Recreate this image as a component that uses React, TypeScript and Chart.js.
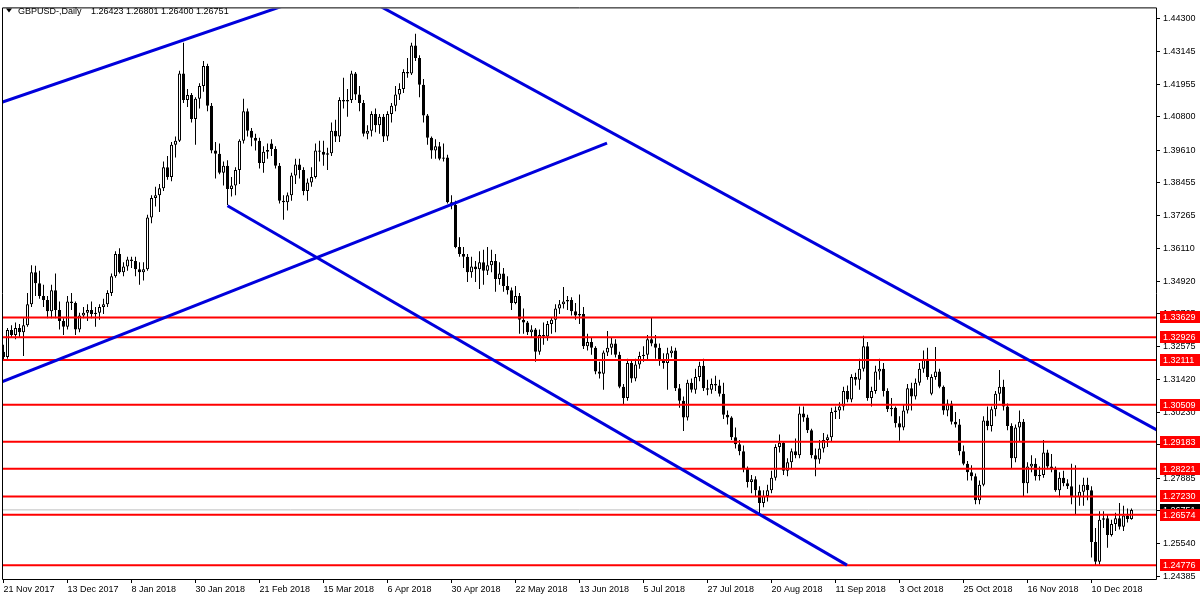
import React, { useEffect, useRef } from "react";
import { Chart, registerables } from "chart.js";

Chart.register(...registerables);

const FONT = "'Liberation Sans', Arial, sans-serif";

// Daily GBPUSD candles, 21 Nov 2017 .. 24 Dec 2018 (one entry per bar)
const opens = [
  1.3240, 1.3222, 1.3318, 1.3300, 1.3325, 1.3310, 1.3335, 1.3410, 1.3525, 1.3485,
  1.3440, 1.3425, 1.3385, 1.3460, 1.3390, 1.3350, 1.3330, 1.3420, 1.3415, 1.3320,
  1.3370, 1.3380, 1.3390, 1.3375, 1.3380, 1.3400, 1.3410, 1.3450, 1.3510, 1.3590,
  1.3525, 1.3545, 1.3570, 1.3565, 1.3535, 1.3525, 1.3535, 1.3720, 1.3790, 1.3800,
  1.3825, 1.3900, 1.3865, 1.3980, 1.3995, 1.4235, 1.4140, 1.4158, 1.4072, 1.4145,
  1.4190, 1.4262, 1.4120, 1.3960, 1.3948, 1.3880, 1.3905, 1.3822, 1.3835, 1.3890,
  1.3995, 1.4100, 1.4030, 1.4005, 1.3995, 1.3915, 1.3955, 1.3985, 1.3965, 1.3905,
  1.3780, 1.3775, 1.3800, 1.3870, 1.3910, 1.3890, 1.3815, 1.3845, 1.3865, 1.3960,
  1.3955, 1.3945, 1.3950, 1.4030, 1.4010, 1.4140, 1.4135, 1.4140, 1.4235, 1.4160,
  1.4130, 1.4020, 1.4030, 1.4090, 1.4050, 1.4080, 1.4010, 1.4090, 1.4120, 1.4160,
  1.4180, 1.4240, 1.4235, 1.4335, 1.4290, 1.4195, 1.4085, 1.4005, 1.3960, 1.3975,
  1.3930, 1.3935, 1.3775, 1.3765, 1.3615, 1.3590, 1.3580, 1.3525, 1.3545, 1.3535,
  1.3560, 1.3530, 1.3550, 1.3565, 1.3500, 1.3520, 1.3475, 1.3460, 1.3415, 1.3440,
  1.3355, 1.3345, 1.3310, 1.3320, 1.3240, 1.3300, 1.3295, 1.3340, 1.3355, 1.3395,
  1.3410, 1.3420, 1.3425, 1.3385, 1.3370, 1.3375, 1.3260, 1.3275, 1.3255, 1.3170,
  1.3162, 1.3238, 1.3255, 1.3270, 1.3230, 1.3115, 1.3075, 1.3200, 1.3145, 1.3195,
  1.3225, 1.3230, 1.3285, 1.3270, 1.3255, 1.3210, 1.3200, 1.3235, 1.3245, 1.3110,
  1.3065, 1.3005, 1.3130, 1.3105, 1.3150, 1.3190, 1.3110, 1.3105, 1.3125, 1.3120,
  1.3090, 1.3015, 1.3005, 1.2935, 1.2910, 1.2885, 1.2825, 1.2775, 1.2785, 1.2745,
  1.2700, 1.2725, 1.2745, 1.2790, 1.2900, 1.2915, 1.2815, 1.2845, 1.2885, 1.2870,
  1.3020, 1.3005, 1.2960, 1.2870, 1.2855, 1.2895, 1.2925, 1.2935, 1.3025, 1.3030,
  1.3045, 1.3100, 1.3070, 1.3150, 1.3140, 1.3180, 1.3260, 1.3075, 1.3100, 1.3170,
  1.3180, 1.3100, 1.3035, 1.3040, 1.2985, 1.2970, 1.3030, 1.3110, 1.3080, 1.3130,
  1.3180, 1.3215, 1.3090, 1.3150, 1.3170, 1.3115, 1.3030, 1.3055, 1.2990, 1.2980,
  1.2885, 1.2840, 1.2810, 1.2795, 1.2710, 1.2765, 1.2995, 1.2975, 1.3035, 1.3090,
  1.3115, 1.3045, 1.2975, 1.2860, 1.2970, 1.2990, 1.2770, 1.2830, 1.2840, 1.2795,
  1.2800, 1.2880, 1.2830, 1.2820, 1.2745, 1.2790, 1.2770, 1.2760, 1.2725, 1.2720,
  1.2740, 1.2765, 1.2745, 1.2560, 1.2490, 1.2640, 1.2645, 1.2585, 1.2625, 1.2645,
  1.2615, 1.2655, 1.26423,
];

const highs = [
  1.3265, 1.3325, 1.3335, 1.3345, 1.3340, 1.3360, 1.3450, 1.3550, 1.3548, 1.3530,
  1.3480, 1.3440, 1.3480, 1.3520, 1.3420, 1.3360, 1.3440, 1.3450, 1.3420, 1.3380,
  1.3400, 1.3410, 1.3420, 1.3400, 1.3410, 1.3430, 1.3460, 1.3520, 1.3600, 1.3610,
  1.3560, 1.3580, 1.3580, 1.3580, 1.3560, 1.3560, 1.3730, 1.3800, 1.3830, 1.3840,
  1.3920, 1.3940, 1.3990, 1.4010, 1.4245, 1.4345, 1.4180, 1.4165, 1.4150, 1.4200,
  1.4280, 1.4270, 1.4130, 1.3990, 1.3985, 1.3920, 1.3925, 1.3865, 1.3900, 1.4000,
  1.4145, 1.4110, 1.4040, 1.4020, 1.4005, 1.3975, 1.3985, 1.4000, 1.3975, 1.3915,
  1.3800, 1.3810, 1.3880, 1.3930, 1.3930, 1.3900, 1.3860, 1.3900, 1.3985, 1.3995,
  1.3995, 1.3970, 1.4060, 1.4070, 1.4150, 1.4220, 1.4180, 1.4245, 1.4240, 1.4190,
  1.4140, 1.4050, 1.4100, 1.4110, 1.4090, 1.4090, 1.4100, 1.4130, 1.4190, 1.4200,
  1.4250, 1.4290, 1.4345, 1.4377, 1.4300, 1.4215, 1.4090, 1.4010, 1.4000, 1.3990,
  1.3985, 1.3945, 1.3800, 1.3780, 1.3650, 1.3615, 1.3590, 1.3580, 1.3565, 1.3600,
  1.3605, 1.3615, 1.3605, 1.3590, 1.3560, 1.3540, 1.3510, 1.3470, 1.3475, 1.3450,
  1.3395, 1.3350, 1.3335, 1.3325, 1.3320, 1.3345, 1.3350, 1.3365, 1.3410, 1.3425,
  1.3472, 1.3440, 1.3435, 1.3415, 1.3445, 1.3400, 1.3305, 1.3290, 1.3260, 1.3205,
  1.3245, 1.3315, 1.3290, 1.3285, 1.3240, 1.3125, 1.3215, 1.3210, 1.3215, 1.3240,
  1.3260, 1.3300, 1.3362, 1.3300, 1.3270, 1.3235, 1.3255, 1.3260, 1.3255, 1.3125,
  1.3080, 1.3140, 1.3145, 1.3180, 1.3205, 1.3215, 1.3140, 1.3145, 1.3155, 1.3140,
  1.3130, 1.3030, 1.3010, 1.2970, 1.2925, 1.2905, 1.2830, 1.2800, 1.2795, 1.2760,
  1.2745, 1.2765, 1.2815, 1.2910, 1.2945, 1.2920, 1.2860, 1.2895, 1.2930, 1.3045,
  1.3045, 1.3015, 1.2965, 1.2895, 1.2925, 1.2950, 1.2945, 1.3040, 1.3045, 1.3060,
  1.3115, 1.3120, 1.3160, 1.3165, 1.3215, 1.3298, 1.3275, 1.3115, 1.3190, 1.3215,
  1.3200, 1.3110, 1.3075, 1.3045, 1.3010, 1.3050, 1.3125, 1.3130, 1.3145, 1.3200,
  1.3245, 1.3255, 1.3160, 1.3257, 1.3180, 1.3120, 1.3070, 1.3065, 1.3025, 1.3000,
  1.2905, 1.2850, 1.2835, 1.2805, 1.2780, 1.3010, 1.3045, 1.3045, 1.3100, 1.3175,
  1.3140, 1.3055, 1.2985, 1.2980, 1.3030, 1.3000, 1.2845, 1.2870, 1.2860, 1.2830,
  1.2925, 1.2890, 1.2875, 1.2830, 1.2810, 1.2815, 1.2785, 1.2840, 1.2835, 1.2765,
  1.2790, 1.2790, 1.2760, 1.2610, 1.2670, 1.2670, 1.2660, 1.2640, 1.2665, 1.2700,
  1.2690, 1.2680, 1.26801,
];

const lows = [
  1.3210, 1.3215, 1.3290, 1.3285, 1.3290, 1.3225, 1.3330, 1.3400, 1.3440, 1.3430,
  1.3400, 1.3360, 1.3360, 1.3360, 1.3320, 1.3300, 1.3320, 1.3390, 1.3300, 1.3310,
  1.3360, 1.3350, 1.3360, 1.3330, 1.3355, 1.3375, 1.3400, 1.3440, 1.3505, 1.3520,
  1.3510, 1.3530, 1.3540, 1.3510, 1.3480, 1.3495, 1.3530, 1.3700, 1.3760, 1.3740,
  1.3815, 1.3855, 1.3850, 1.3935, 1.3990, 1.4130, 1.4115, 1.4060, 1.3980, 1.4110,
  1.4170, 1.4100, 1.3950, 1.3860, 1.3875, 1.3835, 1.3765, 1.3795, 1.3800, 1.3840,
  1.3985, 1.4010, 1.3975, 1.3960, 1.3895, 1.3880, 1.3930, 1.3940, 1.3895, 1.3770,
  1.3712, 1.3745, 1.3780, 1.3840, 1.3860, 1.3800, 1.3780, 1.3830, 1.3860, 1.3920,
  1.3905, 1.3890, 1.3940, 1.3990, 1.3990, 1.4110, 1.4080, 1.4130, 1.4140, 1.4100,
  1.4010, 1.4000, 1.4010, 1.4025, 1.4020, 1.3990, 1.3995, 1.4060, 1.4100, 1.4140,
  1.4165, 1.4220, 1.4230, 1.4280, 1.4150, 1.4060, 1.3980, 1.3930, 1.3930, 1.3925,
  1.3920, 1.3770, 1.3750, 1.3610, 1.3580, 1.3540, 1.3490, 1.3505, 1.3490, 1.3465,
  1.3480, 1.3515, 1.3525, 1.3455, 1.3480, 1.3455, 1.3445, 1.3390, 1.3410, 1.3305,
  1.3305, 1.3300, 1.3290, 1.3205, 1.3230, 1.3265, 1.3280, 1.3305, 1.3310, 1.3375,
  1.3395, 1.3390, 1.3370, 1.3355, 1.3340, 1.3250, 1.3245, 1.3230, 1.3160, 1.3145,
  1.3105, 1.3225, 1.3230, 1.3220, 1.3110, 1.3050, 1.3065, 1.3130, 1.3135, 1.3180,
  1.3205, 1.3210, 1.3260, 1.3215, 1.3190, 1.3180, 1.3105, 1.3220, 1.3100, 1.3040,
  1.2957, 1.2995, 1.3095, 1.3090, 1.3135, 1.3100, 1.3085, 1.3090, 1.3100, 1.3080,
  1.3000, 1.2980, 1.2925, 1.2895, 1.2870, 1.2810, 1.2755, 1.2735, 1.2725, 1.2662,
  1.2685, 1.2705, 1.2735, 1.2780, 1.2880, 1.2800, 1.2795, 1.2820, 1.2860, 1.2860,
  1.2990, 1.2950, 1.2860, 1.2795, 1.2840, 1.2880, 1.2900, 1.2920, 1.3000, 1.3000,
  1.3030, 1.3060, 1.3060, 1.3120, 1.3105, 1.3170, 1.3065, 1.3045, 1.3090, 1.3140,
  1.3080, 1.3025, 1.3010, 1.2970, 1.2922, 1.2960, 1.3020, 1.3030, 1.3070, 1.3120,
  1.3165, 1.3140, 1.3085, 1.3140, 1.3110, 1.3015, 1.3010, 1.2980, 1.2970, 1.2870,
  1.2835, 1.2780, 1.2780, 1.2695, 1.2695, 1.2760, 1.2960, 1.2955, 1.3010, 1.3065,
  1.3030, 1.2960, 1.2825, 1.2845, 1.2920, 1.2725, 1.2735, 1.2810, 1.2780, 1.2780,
  1.2790, 1.2820, 1.2810, 1.2740, 1.2720, 1.2760, 1.2750, 1.2695, 1.2660, 1.2690,
  1.2690, 1.2710, 1.2505, 1.24776, 1.2480, 1.2610, 1.2540, 1.2580, 1.2600, 1.2605,
  1.2600, 1.2630, 1.26400,
];

const closes = [
  1.3222, 1.3318, 1.3300, 1.3325, 1.3310, 1.3335, 1.3410, 1.3525, 1.3485, 1.3440,
  1.3425, 1.3385, 1.3460, 1.3390, 1.3350, 1.3330, 1.3420, 1.3415, 1.3320, 1.3370,
  1.3380, 1.3390, 1.3375, 1.3380, 1.3400, 1.3410, 1.3450, 1.3510, 1.3590, 1.3525,
  1.3545, 1.3570, 1.3565, 1.3535, 1.3525, 1.3535, 1.3720, 1.3790, 1.3800, 1.3825,
  1.3900, 1.3865, 1.3980, 1.3995, 1.4235, 1.4140, 1.4158, 1.4072, 1.4145, 1.4190,
  1.4262, 1.4120, 1.3960, 1.3948, 1.3880, 1.3905, 1.3822, 1.3835, 1.3890, 1.3995,
  1.4100, 1.4030, 1.4005, 1.3995, 1.3915, 1.3955, 1.3962, 1.3965, 1.3905, 1.3780,
  1.3775, 1.3800, 1.3870, 1.3910, 1.3890, 1.3815, 1.3845, 1.3865, 1.3960, 1.3955,
  1.3945, 1.3950, 1.4030, 1.4010, 1.4140, 1.4135, 1.4140, 1.4235, 1.4160, 1.4130,
  1.4020, 1.4030, 1.4090, 1.4050, 1.4080, 1.4010, 1.4090, 1.4120, 1.4160, 1.4180,
  1.4240, 1.4235, 1.4335, 1.4290, 1.4195, 1.4085, 1.4005, 1.3960, 1.3975, 1.3930,
  1.3935, 1.3775, 1.3765, 1.3615, 1.3590, 1.3580, 1.3525, 1.3545, 1.3535, 1.3560,
  1.3530, 1.3550, 1.3565, 1.3500, 1.3520, 1.3475, 1.3460, 1.3415, 1.3440, 1.3355,
  1.3345, 1.3310, 1.3320, 1.3240, 1.3300, 1.3295, 1.3340, 1.3355, 1.3395, 1.3410,
  1.3420, 1.3425, 1.3385, 1.3370, 1.3375, 1.3260, 1.3275, 1.3255, 1.3170, 1.3162,
  1.3238, 1.3255, 1.3270, 1.3230, 1.3115, 1.3075, 1.3200, 1.3145, 1.3195, 1.3225,
  1.3230, 1.3285, 1.3270, 1.3255, 1.3210, 1.3200, 1.3235, 1.3245, 1.3110, 1.3065,
  1.3005, 1.3130, 1.3105, 1.3150, 1.3190, 1.3110, 1.3105, 1.3125, 1.3120, 1.3090,
  1.3015, 1.3005, 1.2935, 1.2910, 1.2885, 1.2825, 1.2775, 1.2785, 1.2745, 1.2700,
  1.2725, 1.2745, 1.2790, 1.2900, 1.2915, 1.2815, 1.2845, 1.2885, 1.2870, 1.3020,
  1.3005, 1.2960, 1.2870, 1.2855, 1.2895, 1.2925, 1.2935, 1.3025, 1.3030, 1.3045,
  1.3100, 1.3070, 1.3150, 1.3140, 1.3180, 1.3260, 1.3075, 1.3100, 1.3170, 1.3180,
  1.3100, 1.3035, 1.3040, 1.2985, 1.2970, 1.3030, 1.3110, 1.3080, 1.3130, 1.3180,
  1.3215, 1.3150, 1.3150, 1.3170, 1.3115, 1.3030, 1.3055, 1.2990, 1.2980, 1.2885,
  1.2840, 1.2810, 1.2795, 1.2710, 1.2765, 1.2995, 1.2975, 1.3035, 1.3090, 1.3115,
  1.3045, 1.2975, 1.2860, 1.2970, 1.2990, 1.2770, 1.2830, 1.2840, 1.2795, 1.2800,
  1.2880, 1.2830, 1.2820, 1.2745, 1.2790, 1.2770, 1.2760, 1.2725, 1.2720, 1.2740,
  1.2765, 1.2745, 1.2560, 1.2490, 1.2640, 1.2645, 1.2585, 1.2625, 1.2645, 1.2615,
  1.2655, 1.2643, 1.26751,
];

const xTickBars = [0, 16, 32, 48, 64, 80, 96, 112, 128, 144, 160, 176, 192, 208, 224, 240, 256, 272];
const xTickLabels = [
  "21 Nov 2017", "13 Dec 2017", "8 Jan 2018", "30 Jan 2018", "21 Feb 2018", "15 Mar 2018",
  "6 Apr 2018", "30 Apr 2018", "22 May 2018", "13 Jun 2018", "5 Jul 2018", "27 Jul 2018",
  "20 Aug 2018", "11 Sep 2018", "3 Oct 2018", "25 Oct 2018", "16 Nov 2018", "10 Dec 2018",
];
const yTickValues = [
  1.443, 1.43145, 1.41955, 1.408, 1.3961, 1.38455, 1.37265, 1.3611, 1.3492,
  1.33765, 1.32575, 1.3142, 1.3023, 1.29075, 1.27885, 1.2673, 1.2554, 1.24385,
];
const levelPrices = [1.33629, 1.32926, 1.32111, 1.30509, 1.29183, 1.28221, 1.2723, 1.26574, 1.24776];
const bidPrice = 1.26751;
const headerSymbol = "GBPUSD-,Daily";
const headerValues = "1.26423 1.26801 1.26400 1.26751";
// trend lines as [barIndex, price] end points
const trendLines = [
  [[-1, 1.41292], [75, 1.45016]],
  [[-1, 1.31292], [150.875, 1.39861]],
  [[56, 1.3762], [210.875, 1.24776]],
  [[90, 1.45079], [290, 1.2948]],
];

const yMin = 1.24281;
const yMax = 1.44677;
const xMin = -0.125;
const xMax = 288.125;

const overlayPlugin = {
  id: "mtOverlay",
  afterDraw(chart: any) {
    const { ctx, chartArea } = chart;
    const ys = chart.scales.y;
    ctx.save();
    // frame
    ctx.strokeStyle = "#000";
    ctx.lineWidth = 1;
    ctx.beginPath();
    ctx.moveTo(chartArea.left - 0.5, chartArea.top - 0.5);
    ctx.lineTo(chartArea.right + 0.5, chartArea.top - 0.5);
    ctx.lineTo(chartArea.right + 0.5, chartArea.bottom + 0.5);
    ctx.lineTo(chartArea.left - 0.5, chartArea.bottom + 0.5);
    ctx.closePath();
    ctx.stroke();

    // price labels
    ctx.font = `9px ${FONT}`;
    ctx.textAlign = "left";
    ctx.textBaseline = "middle";
    const boxLeft = chartArea.right + 4;
    const boxW = chart.width - boxLeft;
    const by = Math.round(ys.getPixelForValue(bidPrice));
    ctx.fillStyle = "#000";
    ctx.fillRect(boxLeft, by - 6, boxW, 12);
    ctx.fillStyle = "#fff";
    ctx.fillText(bidPrice.toFixed(5), boxLeft + 3, by + 0.5);
    for (const p of levelPrices) {
      const py = Math.round(ys.getPixelForValue(p));
      ctx.fillStyle = "#ff0000";
      ctx.fillRect(boxLeft, py - 6, boxW, 12);
      ctx.fillStyle = "#fff";
      ctx.fillText(p.toFixed(5), boxLeft + 3, py + 0.5);
    }

    // header
    ctx.fillStyle = "#000";
    ctx.beginPath();
    ctx.moveTo(6, 8.5);
    ctx.lineTo(12, 8.5);
    ctx.lineTo(9, 12.5);
    ctx.closePath();
    ctx.fill();
    ctx.textBaseline = "alphabetic";
    ctx.fillText(headerSymbol, 18, 14);
    ctx.fillText(headerValues, 91, 14);
    ctx.restore();
  },
};

export default function App() {
  const ref = useRef<HTMLCanvasElement>(null);

  useEffect(() => {
    document.body.style.margin = "0";
    const idx = closes.map((_, i) => i);
    const wickData = idx.map((i) => ({ x: i, y: [lows[i], highs[i]] }));
    const bodyData = idx.map((i) => ({
      x: i,
      y: [Math.min(opens[i], closes[i]), Math.max(opens[i], closes[i])],
    }));
    const bodyColors = idx.map((i) => (closes[i] >= opens[i] ? "#ffffff" : "#000000"));

    const datasets: any[] = [
      {
        type: "line",
        data: [{ x: xMin - 2, y: bidPrice }, { x: xMax + 2, y: bidPrice }],
        borderColor: "#c0c0c0",
        borderWidth: 1,
        pointRadius: 0,
        clip: 0,
        order: 6,
      },
      {
        type: "bar",
        data: wickData,
        backgroundColor: "#000000",
        borderWidth: 0,
        barThickness: 1,
        grouped: false,
        inflateAmount: 0,
        order: 5,
      },
      {
        type: "bar",
        data: bodyData,
        backgroundColor: bodyColors,
        borderColor: "#000000",
        borderWidth: 1,
        borderSkipped: false,
        barThickness: 3,
        minBarLength: 1,
        grouped: false,
        inflateAmount: 0,
        order: 4,
      },
      ...levelPrices.map((p) => ({
        type: "line",
        data: [{ x: xMin - 2, y: p }, { x: xMax + 2, y: p }],
        borderColor: "#ff0000",
        borderWidth: 2,
        pointRadius: 0,
        clip: 0,
        order: 2,
      })),
      ...trendLines.map((l) => ({
        type: "line",
        data: l.map(([x, y]) => ({ x, y })),
        borderColor: "#0000dc",
        borderWidth: 3,
        pointRadius: 0,
        clip: 0,
        order: 1,
      })),
    ];

    const chart = new Chart(ref.current as HTMLCanvasElement, {
      type: "bar",
      data: { datasets },
      options: {
        animation: false,
        responsive: false,
        maintainAspectRatio: false,
        devicePixelRatio: 1,
        layout: { padding: { left: 3, top: 3, right: 0, bottom: 0 } },
        plugins: { legend: { display: false }, tooltip: { enabled: false } },
        scales: {
          x: {
            type: "linear",
            min: xMin,
            max: xMax,
            offset: false,
            afterBuildTicks: (s: any) => {
              s.ticks = xTickBars.map((v) => ({ value: v }));
            },
            afterFit: (s: any) => {
              s.height = 21;
            },
            ticks: {
              autoSkip: false,
              maxRotation: 0,
              minRotation: 0,
              align: "start",
              color: "#000",
              padding: 1,
              font: { family: FONT, size: 9 },
              callback: (_v: any, i: number) => xTickLabels[i] ?? "",
            },
            grid: { drawOnChartArea: false, drawTicks: true, tickLength: 4, color: "#000", offset: false },
            border: { display: false },
          },
          y: {
            type: "linear",
            position: "right",
            min: yMin,
            max: yMax,
            afterBuildTicks: (s: any) => {
              s.ticks = yTickValues.map((v) => ({ value: v }));
            },
            afterFit: (s: any) => {
              s.width = 44;
            },
            ticks: {
              autoSkip: false,
              color: "#000",
              padding: 3,
              font: { family: FONT, size: 9 },
              callback: (v: any) => Number(v).toFixed(5),
            },
            grid: { drawOnChartArea: false, drawTicks: true, tickLength: 4, color: "#000" },
            border: { display: false },
          },
        },
      } as any,
      plugins: [overlayPlugin],
    } as any);

    return () => chart.destroy();
  }, []);

  return (
    <canvas
      ref={ref}
      width={1200}
      height={600}
      style={{ display: "block", width: "1200px", height: "600px" }}
    />
  );
}
